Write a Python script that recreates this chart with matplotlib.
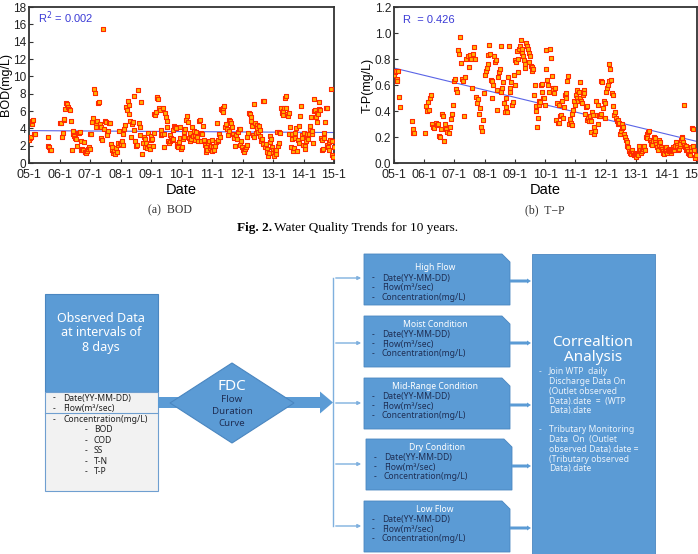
import numpy as np
import matplotlib.pyplot as plt
from matplotlib.patches import Polygon, Rectangle, FancyArrow

nan = np.nan

# BOD values per year, observations spread evenly inside each year (nan = no sample)
bod = {
    2005: [2.7, 2.9, 3.0, 4.5, 4.8, 5.0, 3.4, 3.4] + [nan] * 16 + [3.0, 2.0, 1.8, 1.5, 1.5] + [nan] * 11,
    2006: [4.6, 4.6, 3.0, 3.5, 5.0, 5.1, 6.2, 6.9, 6.8, 6.5, 6.2, 6.1, 4.9, 1.5, 3.3, 3.7, 3.1, 2.9,
           2.8, 2.0, 3.5, 3.5, 3.6, 2.5, 1.5, 1.6, 1.5, 2.4, 1.3, 1.1, 1.4, 1.6, 1.8, 1.6],
    2007: [3.4, 3.3, 4.7, 5.2, 8.5, 8.1, 4.2, 4.6, 4.8, 6.9, 7.0, 4.5, 4.2, 2.9, 2.6, 15.5, 3.9, 4.8,
           4.7, 3.4, 3.2, 3.7, 4.6, 4.6, 2.2, 1.5, 1.9, 1.1, 1.4, 1.0, 1.7, 1.3, 2.1, 2.3, 3.7, 2.3],
    2008: [2.2, 2.5, 2.1, 3.4, 3.9, 4.4, 6.5, 6.1, 7.1, 6.7, 5.6, 4.9, 3.0, 4.5, 4.7, 3.8, 7.7, 2.5,
           2.0, 2.1, 8.4, 4.6, 4.2, 3.2, 7.0, 1.0, 2.3, 3.0, 1.8, 2.8, 2.3, 1.7, 3.5, 2.0, 1.6, 2.6],
    2009: [3.1, 2.8, 2.0, 3.5, 5.6, 5.5, 5.9, 7.5, 7.6, 7.4, 6.4, 6.1, 3.2, 3.8, 3.3, 6.4, 1.9, 3.3,
           5.8, 5.3, 4.8, 4.1, 2.5, 2.3, 2.5, 3.2, 2.9, 2.6, 3.8, 2.8, 4.3, 4.2, 4.0, 2.2, 2.0, 1.9,
           2.4, 4.2, 2.9, 1.6],
    2010: [1.8, 2.8, 3.6, 3.0, 3.9, 5.0, 5.4, 4.7, 2.9, 3.5, 2.5, 2.8, 4.2, 3.1, 3.7, 2.7, 3.2, 3.6,
           3.0, 2.5, 4.8, 5.0, 2.5, 3.5, 3.3, 4.3, 2.7, 2.1, 1.9, 1.3, 1.5, 2.3, 2.5, 1.7, 2.0, 2.6],
    2011: [1.4, 1.9, 1.5, 2.0, 2.4, 4.6, 2.5, 2.7, 3.3, 3.0, 6.2, 6.1, 5.9, 6.4, 6.6, 4.2, 4.5, 3.9,
           3.2, 3.7, 5.0, 4.8, 4.6, 4.1, 3.3, 3.0, 2.9, 2.0, 3.2, 2.8, 3.6, 3.9, 3.9, 2.1, 2.5, 1.9],
    2012: [1.5, 1.4, 1.3, 1.6, 1.9, 2.1, 3.0, 3.5, 5.8, 5.7, 4.9, 5.3, 4.3, 3.2, 3.0, 6.8, 4.6, 3.5,
           4.4, 4.0, 3.6, 4.3, 3.8, 3.1, 2.5, 2.8, 2.2, 7.2, 7.2, 1.9, 2.2, 1.6, 1.3, 0.8, 1.2, 2.4,
           3.1, 2.8, 1.8, 1.5],
    2013: [1.2, 0.8, 1.4, 1.0, 1.5, 3.6, 2.0, 2.3, 3.6, 3.5, 6.3, 5.8, 5.5, 6.0, 6.4, 7.5, 7.7, 6.3,
           5.7, 5.4, 5.8, 3.4, 4.2, 1.9, 2.8, 3.4, 1.4, 1.7, 2.9, 3.5, 4.0, 1.4, 2.6, 4.3, 2.3, 5.4,
           6.6, 3.2, 2.9, 2.1],
    2014: [3.5, 2.0, 1.6, 2.5, 3.1, 3.3, 2.8, 3.4, 3.9, 4.3, 5.3, 3.3, 3.7, 2.3, 6.0, 7.4, 6.1, 5.3,
           4.7, 5.8, 5.6, 6.2, 7.0, 6.1, 2.9, 2.6, 1.5, 1.6, 3.5, 2.9, 4.7, 6.4, 6.3, 2.1, 1.8, 2.4,
           1.5, 2.7, 8.5, 2.5, 0.9, 0.7, 1.8],
}

tp = {
    2005: [0.68, 0.70, 0.71, 0.65, 0.63, 0.71, 0.51, 0.43] + [nan] * 15 + [0.32, 0.26, 0.23, 0.23] + [nan] * 13,
    2006: [0.23, 0.44, 0.40, 0.47, 0.41, 0.50, 0.52, 0.30, 0.28, 0.27, 0.31, 0.29, 0.30, 0.21, 0.20,
           0.26, 0.38, 0.36, 0.17, 0.30, 0.26, 0.24, 0.23, 0.28, 0.34, 0.38, 0.45, 0.63],
    2007: [0.65, 0.57, 0.55, 0.87, 0.84, 0.97, 0.77, 0.65, 0.63, 0.36, 0.66, 0.80, 0.82, 0.74, 0.83,
           0.80, 0.58, 0.84, 0.89, 0.80, 0.51, 0.46, 0.49, 0.38, 0.42, 0.28, 0.25, 0.33, 0.54],
    2008: [0.68, 0.71, 0.73, 0.76, 0.83, 0.91, 0.84, 0.64, 0.50, 0.63, 0.60, 0.82, 0.78, 0.79, 0.56,
           0.41, 0.66, 0.70, 0.72, 0.90, 0.55, 0.58, 0.62, 0.46, 0.39, 0.43, 0.50, 0.39, 0.66, 0.90,
           0.58, 0.55, 0.62, 0.45, 0.47, 0.68, 0.60],
    2009: [0.79, 0.78, 0.86, 0.80, 0.70, 0.88, 0.90, 0.95, 0.88, 0.85, 0.82, 0.79, 0.76, 0.73, 0.92,
           0.90, 0.88, 0.85, 0.78, 0.82, 0.75, 0.74, 0.71, 0.72, 0.52, 0.60, 0.44, 0.40, 0.28, 0.35,
           0.45, 0.48, 0.47, 0.60, 0.55, 0.61, 0.50, 0.50, 0.45],
    2010: [0.72, 0.87, 0.64, 0.60, 0.55, 0.88, 0.81, 0.67, 0.58, 0.56, 0.54, 0.58, 0.33, 0.46, 0.31,
           0.31, 0.45, 0.36, 0.37, 0.48, 0.35, 0.43, 0.52, 0.50, 0.54, 0.63, 0.67, 0.30, 0.34, 0.31,
           0.29, 0.38, 0.41, 0.48, 0.45],
    2011: [0.52, 0.56, 0.50, 0.48, 0.55, 0.62, 0.50, 0.48, 0.46, 0.52, 0.56, 0.54, 0.38, 0.43, 0.44,
           0.33, 0.35, 0.32, 0.36, 0.24, 0.32, 0.39, 0.37, 0.28, 0.22, 0.25, 0.48, 0.37, 0.45, 0.30,
           0.36, 0.36, 0.38, 0.63, 0.62, 0.42, 0.48, 0.46, 0.35],
    2012: [0.55, 0.58, 0.60, 0.63, 0.76, 0.72, 0.64, 0.54, 0.52, 0.44, 0.37, 0.39, 0.35, 0.32, 0.33,
           0.30, 0.31, 0.22, 0.25, 0.27, 0.30, 0.28, 0.22, 0.20, 0.18, 0.16, 0.13, 0.12, 0.09, 0.08,
           0.07, 0.09, 0.10, 0.08, 0.06, 0.07, 0.08],
    2013: [0.05, 0.07, 0.06, 0.09, 0.13, 0.10, 0.08, 0.09, 0.11, 0.12, 0.13, 0.10, 0.20, 0.22, 0.19,
           0.24, 0.25, 0.18, 0.16, 0.15, 0.14, 0.17, 0.20, 0.18, 0.19, 0.15, 0.12, 0.10, 0.14, 0.18,
           0.16, 0.12, 0.11, 0.09, 0.08, 0.07, 0.10, 0.12],
    2014: [0.09, 0.08, 0.10, 0.09, 0.11, 0.10, 0.08, 0.09, 0.10, 0.12, 0.11, 0.10, 0.12, 0.13, 0.16,
           0.14, 0.12, 0.10, 0.11, 0.13, 0.15, 0.18, 0.20, 0.19, 0.16, 0.45, 0.14, 0.12, 0.10, 0.13,
           0.11, 0.08, 0.09, 0.07, 0.06, 0.10, 0.12, 0.27, 0.26, 0.13, 0.10, 0.05, 0.04, 0.06],
}

tick_years = list(range(2005, 2016))
tick_labels = ['%02d-1' % (y % 100) for y in tick_years]

box_rows = ['Date(YY-MM-DD)', 'Flow(m³/sec)', 'Concentration(mg/L)']
items = ['BOD', 'COD', 'SS', 'T-N', 'T-P']
classes = ['High Flow', 'Moist Condition', 'Mid-Range Condition', 'Dry Condition', 'Low Flow']


def to_xy(d):
    xs, ys = [], []
    for yr, vals in d.items():
        n = len(vals)
        for i, v in enumerate(vals):
            xs.append(yr + (i + 0.5) / n)
            ys.append(v)
    xs, ys = np.array(xs), np.array(ys)
    ok = ~np.isnan(ys)
    return xs[ok], ys[ok]


W, H = 698, 554
fig = plt.figure(figsize=(W / 100, H / 100), dpi=100)
sans = ['Liberation Sans', 'DejaVu Sans']
serif = ['Liberation Serif', 'DejaVu Serif']
kr = ['Noto Sans', 'DejaVu Sans']


def scatter_panel(rect, d, ymax, ystep, ylabel, txt, xmax, yfmt):
    ax = fig.add_axes(rect)
    x, y = to_xy(d)
    ax.scatter(x, y, marker='s', s=10, facecolor='#ffb400', edgecolor='#ff2a00', linewidths=0.8, zorder=3)
    k, b = np.polyfit(x, y, 1)
    xl = np.array([2005, x.max()])
    ax.plot(xl, k * xl + b, color='#5a64e6', lw=0.8, zorder=2)
    ax.set_xlim(2005, xmax)
    ax.set_ylim(0, ymax)
    ax.set_xticks(tick_years)
    ax.set_xticklabels(tick_labels, family=sans, fontsize=9)
    yt = np.arange(0, ymax + ystep / 2, ystep)
    ax.set_yticks(yt)
    ax.set_yticklabels([yfmt % v for v in yt], family=sans, fontsize=8.5)
    ax.tick_params(direction='in', length=3, width=0.8, colors='#333333', labelcolor='#222222')
    ax.tick_params(axis='x', pad=4)
    ax.tick_params(axis='y', pad=2)
    for s in ax.spines.values():
        s.set_linewidth(1.3)
        s.set_color('#333333')
    ax.set_xlabel('Date', family=sans, fontsize=10.5, labelpad=2)
    ax.set_ylabel(ylabel, family=sans, fontsize=9, labelpad=1)
    ax.text(0.03, 0.9, txt, transform=ax.transAxes, color='#3b3bd6', fontsize=8, family=sans)
    return ax


def rect(l, r, t, b):
    return [l / W, 1 - b / H, (r - l) / W, (b - t) / H]


scatter_panel(rect(29, 334, 7, 163), bod, 18, 2, 'BOD(mg/L)', 'R$^2$ = 0.002', 2015.0, '%d')
scatter_panel(rect(394, 697, 7, 163), tp, 1.2, 0.2, 'T-P(mg/L)', 'R  = 0.426', 2015.02, '%.1f')

# captions + flowchart on a pixel-coordinate overlay
ov = fig.add_axes([0, 0, 1, 1], zorder=-1)
ov.set_xlim(0, W)
ov.set_ylim(H, 0)
ov.axis('off')

ov.text(170, 210, '(a)  BOD', ha='center', va='center', family=serif, fontsize=8.5, color='#333333')
ov.text(545, 210, '(b)  T\u2212P', ha='center', va='center', family=serif, fontsize=8.5, color='#333333')
ov.text(237, 228, 'Fig. 2.', ha='left', va='center', family=serif, fontsize=9.5, weight='bold')
ov.text(274, 228, 'Water Quality Trends for 10 years.', ha='left', va='center', family=serif, fontsize=9.5)

blue = '#5b9bd5'
navy = '#1f2f55'

# left box
ov.add_patch(Rectangle((45, 294), 113, 98, facecolor=blue, edgecolor='#4a86c0', lw=0.8))
ov.add_patch(Rectangle((45, 392), 113, 99, facecolor='#f2f2f2', edgecolor='#6f9fd0', lw=0.8))
ov.plot([45, 158], [413, 413], color='#6f9fd0', lw=0.8)
ov.text(101, 333, 'Observed Data\nat intervals of\n8 days', ha='center', va='center', color='white',
        family=kr, fontsize=9, linespacing=1.1)
for i, s in enumerate(box_rows):
    yy = 398 + 11 * i
    ov.text(53, yy, '-', ha='left', va='center', family=kr, fontsize=6.2, color='#222222')
    ov.text(63, yy, s, ha='left', va='center', family=kr, fontsize=6.2, color='#222222')
for i, s in enumerate(items):
    yy = 430 + 10.4 * i
    ov.text(85, yy, '-', ha='left', va='center', family=kr, fontsize=6.2, color='#222222')
    ov.text(94, yy, s, ha='left', va='center', family=kr, fontsize=6.2, color='#222222')

# arrows around diamond
ov.add_patch(Rectangle((158, 397), 30, 11, facecolor=blue, edgecolor='none'))
ov.add_patch(FancyArrow(280, 402.5, 53, 0, width=11, head_width=22, head_length=13,
                        length_includes_head=True, facecolor=blue, edgecolor='none'))
ov.add_patch(Polygon([(170, 403), (232, 363), (294, 403), (232, 443)], closed=True,
                     facecolor=blue, edgecolor='#4a86c0', lw=0.8, zorder=3))
ov.text(232, 386, 'FDC', ha='center', va='center', color='white', family=kr, fontsize=11, zorder=4)
for i, s in enumerate(['Flow', 'Duration', 'Curve']):
    ov.text(232, 400 + 11.5 * i, s, ha='center', va='center', color=navy, family=kr, fontsize=7, zorder=4)

# branch lines
ys = [278, 343, 403, 464, 526]
ov.plot([333, 333], [ys[0], ys[-1]], color='#7fb0de', lw=1)
for yy in ys:
    ov.annotate('', xy=(364, yy), xytext=(333, yy),
                arrowprops=dict(arrowstyle='-|>', color='#7fb0de', lw=1, mutation_scale=5))

# condition boxes
tops = [254, 316, 378, 439, 501]
for i, (t, name) in enumerate(zip(tops, classes)):
    x0, x1 = (366, 512) if i == 3 else (364, 510)
    b = min(t + 51, H + 2)
    ty = t + (14 if i == 0 else 8.5)
    ov.add_patch(Polygon([(x0, t), (x1 - 8, t), (x1, t + 8), (x1, b), (x0, b)], closed=True,
                         facecolor=blue, edgecolor='#4a86c0', lw=0.6))
    ov.text((x0 + x1) / 2 - 2, ty, name, ha='center', va='center', color='white', family=kr, fontsize=6.2)
    for j, s in enumerate(box_rows):
        yy = ty + 10 + 9.6 * j
        ov.text(x0 + 8, yy, '-', ha='left', va='center', color=navy, family=kr, fontsize=6.2)
        ov.text(x0 + 18, yy, s, ha='left', va='center', color=navy, family=kr, fontsize=6.2)
    ov.add_patch(FancyArrow(x1, t + 27, 531 - x1, 0, width=3, head_width=5, head_length=4,
                            length_includes_head=True, facecolor=blue, edgecolor='none'))

# correlation box
ov.add_patch(Rectangle((532, 254), 123, H - 254 + 2, facecolor=blue, edgecolor='#4a86c0', lw=0.6))
ov.text(593, 350, 'Correaltion\nAnalysis', ha='center', va='center', color='white', family=kr,
        fontsize=11, linespacing=1.05)
notes = [['Join WTP  daily', 'Discharge Data On', '(Outlet observed', 'Data).date  =  (WTP', 'Data).date'],
         ['Tributary Monitoring', 'Data  On  (Outlet', 'observed Data).date =', '(Tributary observed',
          'Data).date']]
for t0, block in zip([372, 430], notes):
    ov.text(539, t0, '-', ha='left', va='center', color='#dce9f6', family=kr, fontsize=6.2)
    for j, s in enumerate(block):
        ov.text(549, t0 + 9.7 * j, s, ha='left', va='center', color='#eaf2fa', family=kr, fontsize=6.2)

fig.savefig('out.png', dpi=100)
